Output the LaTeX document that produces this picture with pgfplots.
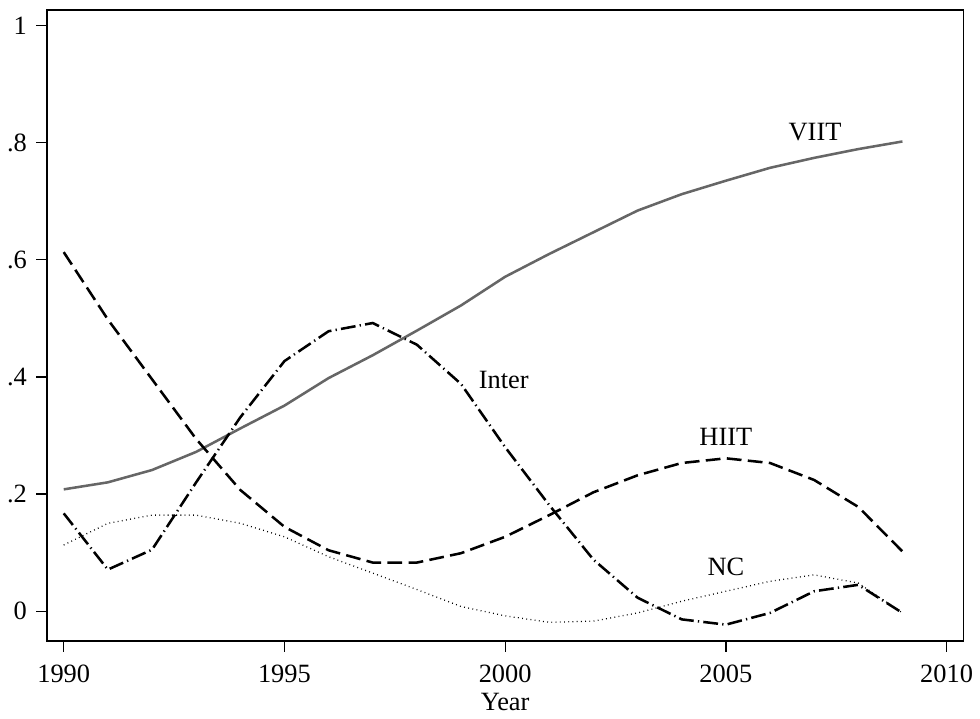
\documentclass[border=0pt]{standalone}
\usepackage{fontspec}
\setmainfont{Liberation Serif}
\usepackage{pgfplots}
\pgfplotsset{compat=1.18}
\definecolor{viitgray}{HTML}{666666}
\begin{document}
\begin{tikzpicture}
\begin{axis}[
  scale only axis,
  width=434pt, height=299pt,
  xmin=1989.62, xmax=2010.38,
  ymin=-0.051, ymax=1.027,
  xtick={1990,1995,2000,2005,2010},
  xticklabels={1990,1995,2000,2005,2010},
  ytick={0,0.2,0.4,0.6,0.8,1},
  yticklabels={0,.2,.4,.6,.8,1},
  tick align=outside,
  xtick pos=bottom, ytick pos=left,
  major tick length=5pt,
  tick style={black, line width=0.6pt},
  axis line style={black, line width=0.8pt},
  ticklabel style={font=\fontsize{12.5}{14}\selectfont},
  yticklabel style={xshift=-1pt},
  xticklabel style={yshift=-3pt},
  xlabel={Year},
  xlabel style={font=\fontsize{12.5}{14}\selectfont, yshift=2pt},
  clip=false,
  after end axis/.code={\path (rel axis cs:0,1) ++(0,4.6pt);},
]
% VIIT
\addplot[viitgray, line width=1.2pt] coordinates {
(1990,0.208) (1991,0.220) (1992,0.241) (1993,0.272) (1994,0.312) (1995,0.351)
(1996,0.398) (1997,0.437) (1998,0.479) (1999,0.522) (2000,0.571) (2001,0.610)
(2002,0.647) (2003,0.684) (2004,0.712) (2005,0.735) (2006,0.757) (2007,0.774)
(2008,0.789) (2009,0.802)};
% HIIT
\addplot[black, line width=1.2pt, dash pattern=on 7pt off 3pt] coordinates {
(1990,0.613) (1991,0.498) (1992,0.396) (1993,0.294) (1994,0.207) (1995,0.144)
(1996,0.104) (1997,0.083) (1998,0.083) (1999,0.099) (2000,0.127) (2001,0.164)
(2002,0.203) (2003,0.232) (2004,0.253) (2005,0.261) (2006,0.253) (2007,0.224)
(2008,0.178) (2009,0.102)};
% Inter
\addplot[black, line width=1.2pt, dash pattern=on 7pt off 2pt on 0.6pt off 2pt] coordinates {
(1990,0.167) (1991,0.071) (1992,0.105) (1993,0.220) (1994,0.331) (1995,0.427)
(1996,0.478) (1997,0.492) (1998,0.455) (1999,0.388) (2000,0.280) (2001,0.181)
(2002,0.088) (2003,0.023) (2004,-0.014) (2005,-0.023) (2006,-0.003) (2007,0.034)
(2008,0.045) (2009,-0.003)};
% NC
\addplot[black, line width=0.6pt, dash pattern=on 0.4pt off 1.6pt] coordinates {
(1990,0.113) (1991,0.150) (1992,0.164) (1993,0.164) (1994,0.150) (1995,0.127)
(1996,0.093) (1997,0.065) (1998,0.037) (1999,0.008) (2000,-0.008) (2001,-0.019)
(2002,-0.017) (2003,-0.003) (2004,0.017) (2005,0.034) (2006,0.051) (2007,0.062)
(2008,0.048) (2009,-0.003)};
\node[font=\fontsize{12.5}{14}\selectfont] at (axis cs:2007.02,0.818) {VIIT};
\node[font=\fontsize{12.5}{14}\selectfont] at (axis cs:1999.97,0.394) {Inter};
\node[font=\fontsize{12.5}{14}\selectfont] at (axis cs:2005.0,0.297) {HIIT};
\node[font=\fontsize{12.5}{14}\selectfont] at (axis cs:2005.0,0.076) {NC};
\end{axis}
\end{tikzpicture}
\end{document}
